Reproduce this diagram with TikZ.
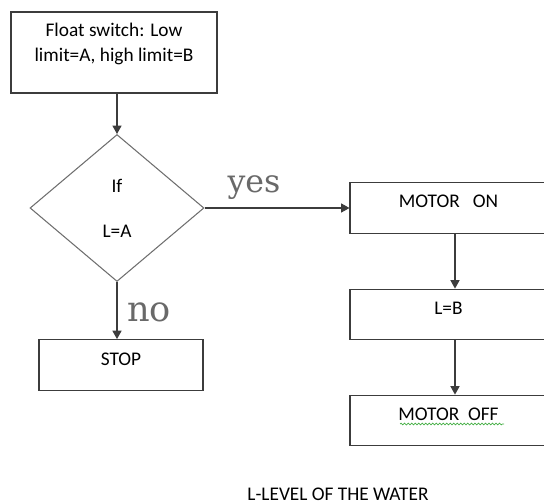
\documentclass[tikz,border=0pt]{standalone}
\usepackage{fontspec}
\setmainfont{Carlito}
\newfontfamily\answerfont{DejaVu Serif}
\usepackage{tikz}
\usetikzlibrary{arrows.meta,positioning,calc,shapes.geometric,decorations.pathmorphing}
\definecolor{edgegray}{RGB}{60,60,60}
\definecolor{diamgray}{RGB}{110,110,110}
\definecolor{answergray}{RGB}{105,105,105}
\definecolor{spellgreen}{RGB}{70,175,70}
\tikzset{
  procbox/.style={rectangle, draw=edgegray, line width=0.6pt, inner sep=0pt, text height=14.45pt, text depth=14.45pt, align=center, font=\fontsize{11}{14}\selectfont},
  startbox/.style={rectangle, draw=edgegray, line width=0.6pt, inner sep=0pt, minimum width=4.12cm, minimum height=1.62cm, align=center, font=\fontsize{11}{14.2}\selectfont},
  decision/.style={diamond, draw=diamgray, line width=0.6pt, inner sep=0pt, minimum width=3.48cm, minimum height=2.94cm, align=center, font=\fontsize{11}{14}\selectfont},
  flow/.style={draw=edgegray, line width=0.6pt, -{Triangle[length=4.8pt,width=5.2pt]}},
  answer/.style={text=answergray, inner sep=0pt},
  spellwave/.style={spellgreen, line width=0.4pt, decorate, decoration={snake, amplitude=0.5pt, segment length=2pt}},
  note/.style={font=\fontsize{11}{14}\selectfont, inner sep=0pt}
}

\begin{document}
\begin{tikzpicture}[x=0.02cm, y=-0.02cm]
  \useasboundingbox (0,0) rectangle (544,503);
  \clip (0,0) rectangle (544,503);

  % float switch and test
  \node[startbox] (fswitch) at (114,52.5) {Float switch: Low\\limit=A, high limit=B\rule[-12pt]{0pt}{0pt}};
  \node[decision] (check) at (117,208) {If\\[11.5pt]L=A};
  \draw[flow] (check.north |- fswitch.south) -- (check.north);

  % no branch
  \node[procbox, minimum width=3.28cm] (stop) at (121,365) {STOP};
  \draw[flow] (check.south) -- (check.south |- stop.north);
  \node[answer, font=\answerfont\fontsize{20}{20}\selectfont] (nolbl) at (149,312) {no};

  % yes branch, boxes run off the right edge
  \node[procbox, minimum width=3.94cm] (mon) at (448.5,208) {MOTOR\ \ \ ON};
  \node[procbox, minimum width=3.94cm] (lb) at (448.5,314.5) {L=B};
  \node[procbox, minimum width=3.94cm] (moff) at (448.5,420.5) {MOTOR\ \ OFF};
  \draw[flow] (check.east) -- (mon.west);
  \node[answer, font=\answerfont\fontsize{18}{18}\selectfont] (yeslbl) at (254,188) {yes};
  \draw[flow] ([xshift=0.13cm]mon.south) -- ([xshift=0.13cm]lb.north);
  \draw[flow] ([xshift=0.13cm]lb.south) -- ([xshift=0.13cm]moff.north);
  \draw[spellwave] (400,424) -- (504,424);

  \node[note, anchor=base] (legend) at (338,500) {L-LEVEL OF THE WATER};
\end{tikzpicture}
\end{document}
